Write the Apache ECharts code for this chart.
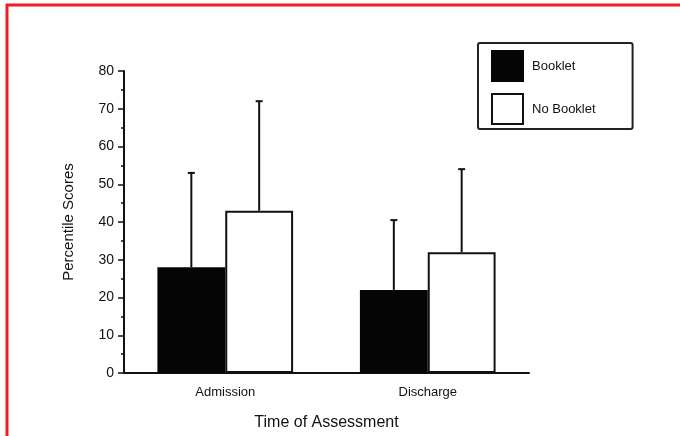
<!DOCTYPE html>
<html>
<head>
<meta charset="utf-8">
<script src="https://cdn.jsdelivr.net/npm/echarts@6/dist/echarts.min.js"></script>
<style>html,body{margin:0;padding:0;background:#fff}#c{width:680px;height:436px}</style>
</head>
<body>
<div id="c"></div>
<script>
var categories = ['Admission', 'Discharge'];
var seriesNames = ['Booklet', 'No Booklet'];
var bookletMean = [28, 22];
var bookletUpper = [53, 40.5];
var noBookletMean = [43, 32];
var noBookletUpper = [72, 54];
var yTicks = [0, 10, 20, 30, 40, 50, 60, 70, 80];

var FONT = '"Liberation Sans", Arial, sans-serif';
var groupFrac = 136 / 203;

function errRender(side) {
  return function (params, api) {
    var i = api.value(0);
    var mean = api.value(1);
    var up = api.value(2);
    var c = api.coord([i, mean]);
    var t = api.coord([i, up]);
    var bw = api.size([1, 0])[0] * groupFrac / 2;
    var x = c[0] + side * bw / 2;
    return {
      type: 'group',
      children: [
        { type: 'line', shape: { x1: x, y1: c[1], x2: x, y2: t[1] }, style: { stroke: '#111', lineWidth: 2 } },
        { type: 'line', shape: { x1: x - 3.5, y1: t[1], x2: x + 3.5, y2: t[1] }, style: { stroke: '#111', lineWidth: 2 } }
      ]
    };
  };
}

var chart = echarts.init(document.getElementById('c'));
chart.setOption({
  backgroundColor: '#fff',
  animation: false,
  graphic: [{
    type: 'rect', shape: { x: 7, y: 5, width: 720, height: 520 },
    style: { fill: 'none', stroke: '#f01c24', lineWidth: 3 }, z: 100
  }],
  grid: { left: 124, right: 151, top: 71, bottom: 63 },
  legend: {
    orient: 'vertical',
    left: 478, top: 43,
    padding: [7, 37, 4, 13],
    itemWidth: 31, itemHeight: 30, itemGap: 11,
    borderColor: '#222', borderWidth: 2, borderRadius: 2,
    textStyle: { fontFamily: FONT, fontSize: 13, color: '#111', padding: [0, 0, 0, 4] },
    data: [
      { name: 'Booklet', icon: 'rect' },
      { name: 'No Booklet', icon: 'rect' }
    ]
  },
  xAxis: {
    type: 'category',
    data: categories,
    name: 'Time of Assessment',
    nameLocation: 'middle',
    nameGap: 42,
    nameTextStyle: { fontFamily: FONT, fontSize: 16, color: '#111' },
    axisLine: { lineStyle: { color: '#111', width: 2 } },
    axisTick: { show: false },
    axisLabel: { fontFamily: FONT, fontSize: 13, color: '#111', margin: 13 }
  },
  yAxis: {
    type: 'value',
    min: 0, max: 80, interval: 10,
    name: 'Percentile Scores',
    nameLocation: 'middle',
    nameGap: 48,
    nameTextStyle: { fontFamily: FONT, fontSize: 15, color: '#111' },
    axisLine: { show: true, lineStyle: { color: '#111', width: 2 } },
    axisTick: { show: true, length: 6, lineStyle: { color: '#111', width: 1.5 } },
    minorTick: { show: true, splitNumber: 2, length: 3, lineStyle: { color: '#111', width: 1.5 } },
    splitLine: { show: false },
    axisLabel: {
      fontFamily: FONT, fontSize: 14, color: '#111', margin: 10,
      formatter: function (v) { return yTicks.indexOf(v) >= 0 ? String(v) : ''; }
    }
  },
  series: [
    {
      name: 'Booklet', type: 'bar', data: bookletMean,
      barGap: '0%', barCategoryGap: '33%',
      itemStyle: { color: '#050505', borderColor: '#050505', borderWidth: 2 }
    },
    {
      name: 'No Booklet', type: 'bar', data: noBookletMean,
      itemStyle: { color: '#fff', borderColor: '#111', borderWidth: 2 }
    },
    {
      type: 'custom', name: 'errB', z: 1,
      renderItem: errRender(-1),
      encode: { x: 0, y: 1 },
      data: categories.map(function (c, i) { return [i, bookletMean[i], bookletUpper[i]]; })
    },
    {
      type: 'custom', name: 'errN', z: 1,
      renderItem: errRender(1),
      encode: { x: 0, y: 1 },
      data: categories.map(function (c, i) { return [i, noBookletMean[i], noBookletUpper[i]]; })
    }
  ]
});
</script>
</body>
</html>
